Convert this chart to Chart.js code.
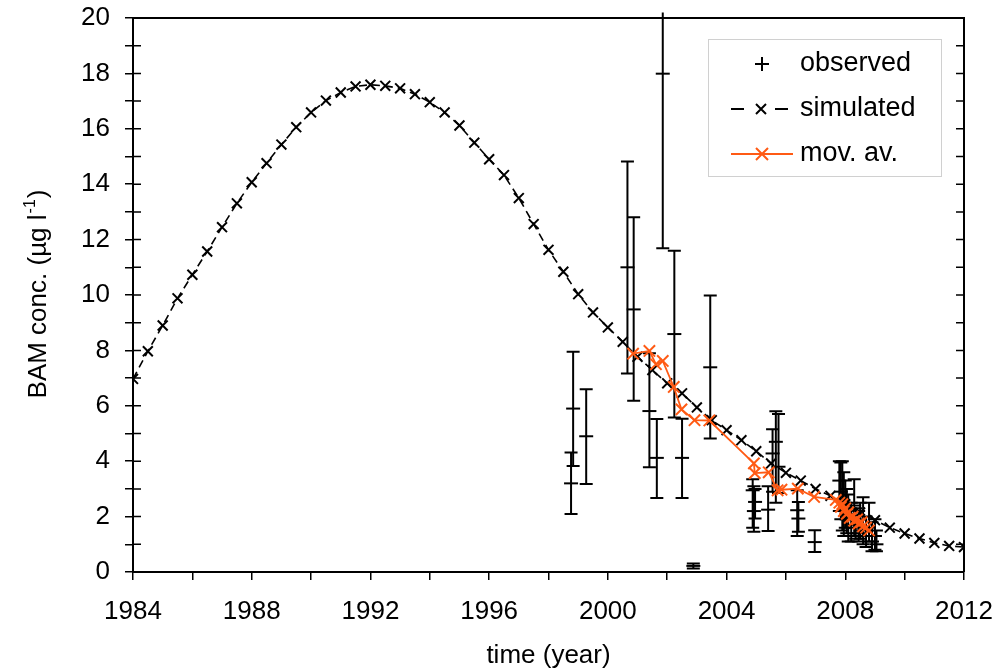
<!DOCTYPE html>
<html>
<head>
<meta charset="utf-8">
<title>BAM concentration</title>
<script src="https://cdn.jsdelivr.net/npm/chart.js@4"></script>
<style>
  html, body { margin: 0; padding: 0; background: #fff; }
  #wrap { width: 999px; height: 671px; }
</style>
</head>
<body>
<div id="wrap"><canvas id="bamChart" width="999" height="671"></canvas></div>
<script>
// simulated concentration, every half year
const simYears = [1984, 1984.5, 1985, 1985.5, 1986, 1986.5, 1987, 1987.5, 1988, 1988.5,
  1989, 1989.5, 1990, 1990.5, 1991, 1991.5, 1992, 1992.5, 1993, 1993.5,
  1994, 1994.5, 1995, 1995.5, 1996, 1996.5, 1997, 1997.5, 1998, 1998.5,
  1999, 1999.5, 2000, 2000.5, 2001, 2001.5, 2002, 2002.5, 2003, 2003.5,
  2004, 2004.5, 2005, 2005.5, 2006, 2006.5, 2007, 2007.5, 2008, 2008.5,
  2009, 2009.5, 2010, 2010.5, 2011, 2011.5, 2012];
const simValues = [6.97, 7.97, 8.90, 9.88, 10.73, 11.57, 12.45, 13.31, 14.07, 14.76,
  15.43, 16.06, 16.59, 17.02, 17.31, 17.53, 17.59, 17.55, 17.46, 17.25,
  16.96, 16.59, 16.12, 15.50, 14.90, 14.33, 13.50, 12.56, 11.63, 10.84,
  10.03, 9.37, 8.83, 8.31, 7.77, 7.29, 6.81, 6.45, 5.94, 5.48,
  5.12, 4.76, 4.36, 3.92, 3.58, 3.30, 3.00, 2.75, 2.45, 2.15,
  1.87, 1.60, 1.39, 1.21, 1.05, 0.94, 0.90];

// moving average
const avgYears = [2000.85, 2001.40, 2001.62, 2001.85, 2002.22, 2002.48, 2002.92, 2003.42,
  2004.92, 2004.95, 2005.42, 2005.72, 2005.85, 2006.40, 2006.95, 2007.68,
  2007.80, 2007.85, 2007.90, 2007.95, 2008.00, 2008.05, 2008.10, 2008.15,
  2008.25, 2008.30, 2008.40, 2008.45, 2008.55, 2008.60, 2008.70, 2008.80];
const avgValues = [7.88, 7.98, 7.50, 7.62, 6.68, 5.87, 5.48, 5.47,
  3.92, 3.57, 3.60, 2.95, 2.97, 3.01, 2.71, 2.60,
  2.50, 2.35, 2.45, 2.20, 2.30, 2.10, 2.15, 1.95,
  2.00, 1.85, 1.90, 1.75, 1.80, 1.65, 1.60, 1.50];

// observed samples with min / max range
const obsYears = [1998.76, 1998.83, 1999.27, 2000.66, 2000.87, 2001.40, 2001.65, 2001.85,
  2002.24, 2002.50, 2002.88, 2003.45, 2004.88, 2004.92, 2004.96, 2005.40,
  2005.55, 2005.66, 2005.75, 2006.38, 2006.42, 2006.97,
  2007.80, 2007.85, 2007.90, 2007.95, 2008.00, 2008.05, 2008.10, 2008.20,
  2008.30, 2008.35, 2008.45, 2008.50, 2008.60, 2008.70, 2008.80, 2008.90, 2009.00, 2009.05];
const obsValues = [3.20, 5.90, 4.90, 11.00, 9.48, 5.81, 4.12, 17.99,
  8.59, 4.12, 0.22, 7.39, 2.95, 2.20, 2.53, 2.25,
  4.28, 4.70, 3.80, 2.23, 1.93, 1.08,
  3.30, 2.90, 2.60, 2.20, 2.50, 1.90, 2.10, 1.60,
  2.40, 1.70, 1.40, 1.90, 1.50, 1.30, 1.60, 1.10, 1.30, 1.00];
const obsLow = [2.09, 3.83, 3.18, 7.17, 6.18, 3.78, 2.67, 11.69,
  5.58, 2.67, 0.13, 4.82, 1.60, 1.45, 1.93, 1.48,
  2.90, 2.50, 2.85, 1.30, 1.45, 0.72,
  2.20, 1.90, 1.50, 1.30, 1.60, 1.40, 1.10, 1.10,
  1.30, 1.20, 1.10, 1.20, 1.00, 0.90, 1.10, 0.75, 0.80, 0.75];
const obsHigh = [4.31, 7.95, 6.60, 14.82, 12.81, 7.90, 5.52, 20.20,
  11.60, 5.53, 0.31, 9.98, 3.35, 3.10, 3.00, 3.10,
  5.15, 5.80, 5.70, 2.95, 2.53, 1.51,
  4.00, 3.95, 4.00, 3.60, 3.30, 3.00, 2.80, 2.50,
  3.35, 2.30, 2.20, 2.50, 2.70, 2.00, 2.50, 1.80, 1.90, 1.50];

const xTickLabels = ['1984', '1988', '1992', '1996', '2000', '2004', '2008', '2012'];
const yTickLabels = ['0', '2', '4', '6', '8', '10', '12', '14', '16', '18', '20'];

const FONT = '"Liberation Sans", Arial, Helvetica, sans-serif';
const ORANGE = '#ff5a14';

function toPoints(xs, ys) {
  return xs.map((x, i) => ({ x: x, y: ys[i] }));
}

// error bars, plot frame, inner ticks, legend and y title
const extrasPlugin = {
  id: 'extras',
  beforeDatasetsDraw(chart) {
    const { ctx, scales: { x, y } } = chart;
    const yMax = y.max;
    ctx.save();
    ctx.strokeStyle = '#000';
    ctx.lineWidth = 2;
    obsYears.forEach((yr, i) => {
      const px = x.getPixelForValue(yr);
      const pTop = y.getPixelForValue(obsHigh[i]);
      const pBot = y.getPixelForValue(obsLow[i]);
      ctx.beginPath();
      ctx.moveTo(px, pTop);
      ctx.lineTo(px, pBot);
      if (obsHigh[i] <= yMax) {
        ctx.moveTo(px - 6.5, pTop);
        ctx.lineTo(px + 6.5, pTop);
      }
      ctx.moveTo(px - 6.5, pBot);
      ctx.lineTo(px + 6.5, pBot);
      ctx.stroke();
    });
    ctx.restore();
  },
  afterDraw(chart) {
    const { ctx, chartArea: a, scales: { y } } = chart;
    ctx.save();
    ctx.strokeStyle = '#000';
    ctx.lineWidth = 2;
    ctx.beginPath();
    ctx.moveTo(a.left, a.top);
    ctx.lineTo(a.right, a.top);
    ctx.lineTo(a.right, a.bottom);
    ctx.stroke();

    ctx.lineWidth = 1.5;
    y.ticks.forEach(t => {
      const py = y.getPixelForValue(t.value);
      ctx.beginPath();
      ctx.moveTo(a.left, py);
      ctx.lineTo(a.left + 8, py);
      ctx.moveTo(a.right - 8, py);
      ctx.lineTo(a.right, py);
      ctx.stroke();
    });

    // legend
    const lx = 708, ly = 39, lw = 233, lh = 137;
    ctx.fillStyle = '#fff';
    ctx.fillRect(lx, ly, lw, lh);
    ctx.strokeStyle = '#d0d0d0';
    ctx.lineWidth = 1;
    ctx.strokeRect(lx + 0.5, ly + 0.5, lw, lh);

    ctx.font = '27px ' + FONT;
    ctx.fillStyle = '#000';
    ctx.textBaseline = 'middle';
    ctx.textAlign = 'left';
    const rows = [64, 109, 154];
    ctx.fillText('observed', 800, rows[0]);
    ctx.fillText('simulated', 800, rows[1]);
    ctx.fillText('mov. av.', 800, rows[2]);

    ctx.strokeStyle = '#000';
    ctx.lineWidth = 2;
    ctx.beginPath();
    ctx.moveTo(755, rows[0]); ctx.lineTo(769, rows[0]);
    ctx.moveTo(762, rows[0] - 7); ctx.lineTo(762, rows[0] + 7);
    ctx.stroke();

    ctx.beginPath();
    ctx.moveTo(731, rows[1]); ctx.lineTo(744, rows[1]);
    ctx.moveTo(775, rows[1]); ctx.lineTo(788, rows[1]);
    ctx.moveTo(756, rows[1] - 5); ctx.lineTo(766, rows[1] + 5);
    ctx.moveTo(756, rows[1] + 5); ctx.lineTo(766, rows[1] - 5);
    ctx.stroke();

    ctx.strokeStyle = ORANGE;
    ctx.beginPath();
    ctx.moveTo(731, rows[2]); ctx.lineTo(793, rows[2]);
    ctx.moveTo(756, rows[2] - 6); ctx.lineTo(768, rows[2] + 6);
    ctx.moveTo(756, rows[2] + 6); ctx.lineTo(768, rows[2] - 6);
    ctx.stroke();

    // y axis title with superscript
    const main = 'BAM conc. (\u00b5g l';
    const sup = '-1';
    const tail = ')';
    ctx.translate(37, (a.top + a.bottom) / 2);
    ctx.rotate(-Math.PI / 2);
    ctx.fillStyle = '#000';
    ctx.font = '26px ' + FONT;
    const w1 = ctx.measureText(main).width;
    const w3 = ctx.measureText(tail).width;
    ctx.font = '16px ' + FONT;
    const w2 = ctx.measureText(sup).width;
    let sx = -(w1 + w2 + w3) / 2;
    ctx.textBaseline = 'alphabetic';
    ctx.font = '26px ' + FONT;
    ctx.fillText(main, sx, 9);
    ctx.font = '16px ' + FONT;
    ctx.fillText(sup, sx + w1 + 1, -2);
    ctx.font = '26px ' + FONT;
    ctx.fillText(tail, sx + w1 + w2 + 2, 9);
    ctx.restore();
  }
};

const ctx = document.getElementById('bamChart').getContext('2d');
const bamChart = new Chart(ctx, {
  type: 'scatter',
  data: {
    datasets: [
      {
        label: 'mov. av.',
        data: toPoints(avgYears, avgValues),
        showLine: true,
        borderColor: ORANGE,
        borderWidth: 1.8,
        pointStyle: 'crossRot',
        pointRadius: 8,
        pointBorderWidth: 2,
        pointBorderColor: ORANGE,
        pointBackgroundColor: ORANGE,
        order: 0
      },
      {
        label: 'simulated',
        data: toPoints(simYears, simValues),
        showLine: true,
        borderColor: '#000',
        borderWidth: 1.6,
        borderDash: [8, 5],
        pointStyle: 'crossRot',
        pointRadius: 7,
        pointBorderWidth: 2,
        pointBorderColor: '#000',
        pointBackgroundColor: '#000',
        order: 1
      },
      {
        label: 'observed',
        data: toPoints(obsYears, obsValues),
        showLine: false,
        pointStyle: 'line',
        pointRadius: 7,
        pointBorderWidth: 2,
        pointBorderColor: '#000',
        pointBackgroundColor: '#000',
        order: 2
      }
    ]
  },
  options: {
    responsive: false,
    animation: false,
    devicePixelRatio: 1,
    layout: { padding: { top: 18, right: 35, left: 0, bottom: 0 } },
    plugins: {
      legend: { display: false },
      tooltip: { enabled: false }
    },
    scales: {
      x: {
        type: 'linear',
        min: 1984,
        max: 2012,
        afterFit: scale => {
          scale.height = 99;
          scale.paddingLeft = 0;
          scale.paddingRight = 0;
        },
        border: { display: true, color: '#000', width: 2 },
        grid: { drawOnChartArea: false, drawTicks: true, tickLength: 8, color: '#000', lineWidth: 1.5 },
        ticks: {
          stepSize: 2,
          autoSkip: false,
          maxRotation: 0,
          padding: 16,
          color: '#000',
          font: { family: FONT, size: 26 },
          callback: v => xTickLabels.includes(String(v)) ? String(v) : ''
        },
        title: {
          display: true,
          text: 'time (year)',
          color: '#000',
          font: { family: FONT, size: 26 },
          padding: { top: 0, bottom: 0 }
        }
      },
      y: {
        min: 0,
        max: 20,
        afterFit: scale => {
          scale.width = 133;
          scale.paddingTop = 0;
          scale.paddingBottom = 0;
        },
        border: { display: true, color: '#000', width: 2 },
        grid: { drawOnChartArea: false, drawTicks: true, tickLength: 8, color: '#000', lineWidth: 1.5 },
        ticks: {
          stepSize: 1,
          autoSkip: false,
          padding: 15,
          color: '#000',
          font: { family: FONT, size: 26 },
          callback: v => yTickLabels.includes(String(v)) ? String(v) : ''
        }
      }
    }
  },
  plugins: [extrasPlugin]
});
</script>
</body>
</html>
